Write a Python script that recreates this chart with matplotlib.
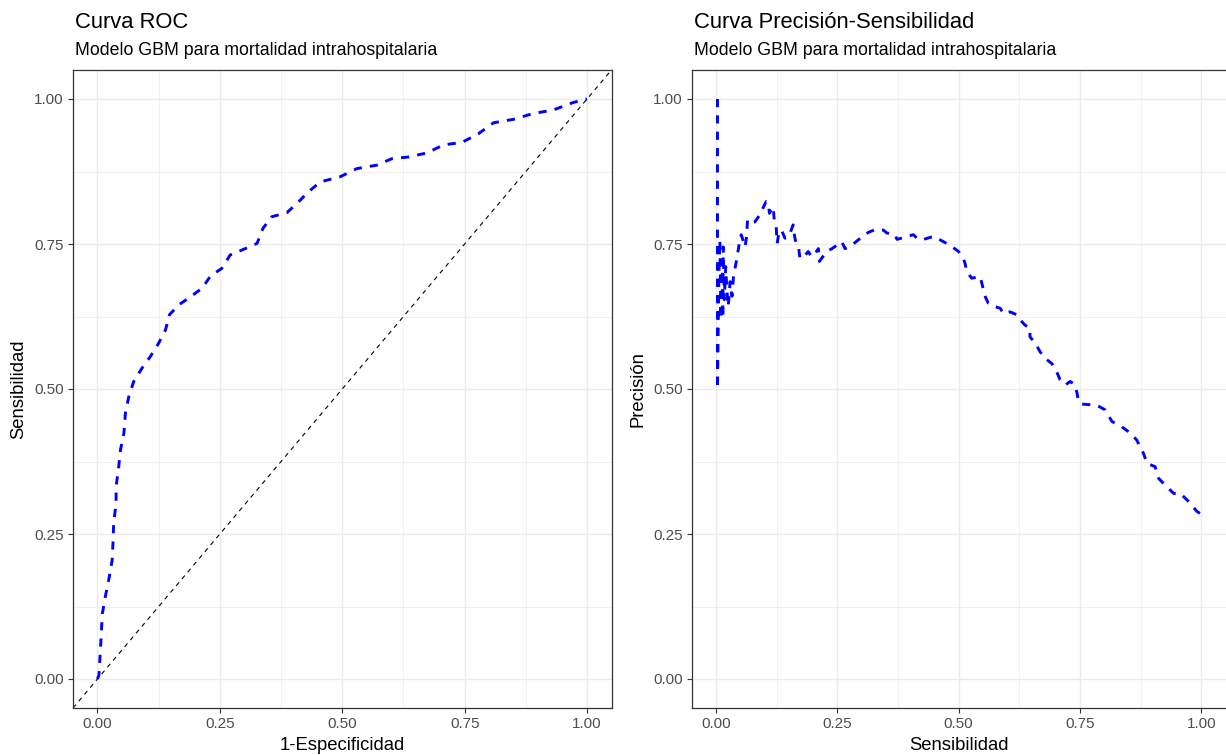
import matplotlib
matplotlib.use("Agg")
import matplotlib.pyplot as plt
import numpy as np

plt.rcParams['font.family'] = ['Liberation Sans', 'DejaVu Sans']

# ROC curve (1-especificidad, sensibilidad)
roc_fpr = [0.0, 0.003, 0.006, 0.010, 0.016, 0.023, 0.030, 0.032, 0.033, 0.038, 0.038,
           0.043, 0.047, 0.054, 0.057, 0.064, 0.074, 0.091, 0.108, 0.125, 0.139, 0.147,
           0.166, 0.190, 0.214, 0.231, 0.254, 0.271, 0.299, 0.326, 0.338, 0.356, 0.387,
           0.411, 0.431, 0.455, 0.496, 0.530, 0.571, 0.601, 0.635, 0.673, 0.707, 0.744,
           0.778, 0.809, 0.850, 0.890, 0.931, 0.972, 1.0]
roc_tpr = [0.0, 0.007, 0.050, 0.113, 0.142, 0.171, 0.205, 0.240, 0.268, 0.303, 0.332,
           0.363, 0.395, 0.424, 0.458, 0.487, 0.513, 0.536, 0.556, 0.579, 0.602, 0.628,
           0.645, 0.659, 0.674, 0.695, 0.708, 0.731, 0.741, 0.751, 0.777, 0.797, 0.804,
           0.823, 0.840, 0.857, 0.866, 0.880, 0.886, 0.897, 0.900, 0.907, 0.921, 0.925,
           0.940, 0.959, 0.965, 0.975, 0.981, 0.994, 1.0]

# precision-recall curve (sensibilidad, precision)
pr_rec = [0.003, 0.003, 0.006, 0.008, 0.010, 0.012, 0.013, 0.014, 0.015, 0.017, 0.020,
          0.022, 0.025, 0.027, 0.029, 0.033, 0.036, 0.043, 0.049, 0.052, 0.060, 0.063,
          0.065, 0.070, 0.080, 0.090, 0.098, 0.103, 0.108, 0.110, 0.118, 0.120, 0.124,
          0.126, 0.130, 0.135, 0.142, 0.150, 0.159, 0.162, 0.165, 0.170, 0.173, 0.184,
          0.190, 0.197, 0.205, 0.211, 0.213, 0.228, 0.239, 0.259, 0.266, 0.283, 0.293,
          0.314, 0.328, 0.345, 0.352, 0.369, 0.373, 0.386, 0.397, 0.407, 0.414, 0.424,
          0.448, 0.462, 0.482, 0.500, 0.510, 0.513, 0.517, 0.527, 0.544, 0.548, 0.551,
          0.555, 0.561, 0.572, 0.586, 0.592, 0.606, 0.620, 0.627, 0.637, 0.647, 0.647,
          0.658, 0.668, 0.678, 0.692, 0.702, 0.709, 0.720, 0.730, 0.740, 0.744, 0.747,
          0.754, 0.785, 0.802, 0.816, 0.836, 0.854, 0.867, 0.881, 0.888, 0.905, 0.912,
          0.926, 0.943, 0.957, 0.974, 0.991, 1.0]
pr_prec = [1.0, 0.500, 0.700, 0.757, 0.620, 0.688, 0.720, 0.622, 0.745, 0.654, 0.711,
           0.677, 0.642, 0.660, 0.685, 0.660, 0.694, 0.725, 0.757, 0.766, 0.745, 0.763,
           0.791, 0.786, 0.788, 0.800, 0.814, 0.823, 0.820, 0.803, 0.814, 0.791, 0.780,
           0.751, 0.771, 0.774, 0.760, 0.763, 0.783, 0.763, 0.751, 0.745, 0.725, 0.731,
           0.737, 0.728, 0.735, 0.742, 0.720, 0.737, 0.742, 0.754, 0.742, 0.750, 0.757,
           0.770, 0.775, 0.774, 0.769, 0.766, 0.758, 0.761, 0.764, 0.766, 0.760, 0.757,
           0.763, 0.757, 0.748, 0.737, 0.725, 0.717, 0.702, 0.691, 0.694, 0.682, 0.671,
           0.659, 0.648, 0.643, 0.639, 0.630, 0.633, 0.628, 0.619, 0.610, 0.605, 0.590,
           0.579, 0.564, 0.553, 0.544, 0.530, 0.516, 0.507, 0.513, 0.507, 0.493, 0.478,
           0.474, 0.472, 0.464, 0.444, 0.435, 0.424, 0.412, 0.389, 0.372, 0.366, 0.346,
           0.334, 0.320, 0.320, 0.306, 0.289, 0.284]

ticks = [0.0, 0.25, 0.5, 0.75, 1.0]
tick_labels = ["0.00", "0.25", "0.50", "0.75", "1.00"]
minor = [0.125, 0.375, 0.625, 0.875]

W, H = 1226, 755
fig = plt.figure(figsize=(W / 100, H / 100), dpi=100)


def setup(ax, xlabel, ylabel):
    ax.set_xlim(-0.05, 1.05)
    ax.set_ylim(-0.05, 1.05)
    ax.set_xticks(ticks)
    ax.set_xticklabels(tick_labels)
    ax.set_yticks(ticks)
    ax.set_yticklabels(tick_labels)
    ax.set_xticks(minor, minor=True)
    ax.set_yticks(minor, minor=True)
    ax.grid(which="major", color="#EBEBEB", lw=1.0)
    ax.grid(which="minor", color="#EBEBEB", lw=0.5)
    ax.set_axisbelow(True)
    ax.tick_params(which="major", length=3.5, width=0.8, color="#333333",
                   labelsize=11, labelcolor="#4D4D4D", pad=3)
    ax.tick_params(which="minor", length=0)
    for s in ax.spines.values():
        s.set_color("#333333")
        s.set_linewidth(0.9)
    ax.set_xlabel(xlabel, fontsize=13.3, labelpad=4)
    ax.set_ylabel(ylabel, fontsize=13.3, labelpad=5)


def titles(ax, title, subtitle):
    x0 = ax.get_position().x0 + 2 / W
    fig.text(x0, 1 - 28 / H, title, fontsize=15.8, va="baseline", ha="left")
    fig.text(x0, 1 - 55 / H, subtitle, fontsize=12.8, va="baseline", ha="left")


ax1 = fig.add_axes([73 / W, 1 - 708 / H, 538.5 / W, 638 / H])
setup(ax1, "1-Especificidad", "Sensibilidad")
ax1.axline((0, 0), (1, 1), color="black", lw=0.8, ls=(0, (4, 4)))
ax1.plot(roc_fpr, roc_tpr, color="blue", lw=2.1, ls=(0, (2.8, 2.8)))
titles(ax1, "Curva ROC", "Modelo GBM para mortalidad intrahospitalaria")

ax2 = fig.add_axes([691.75 / W, 1 - 708 / H, 533.75 / W, 638 / H])
setup(ax2, "Sensibilidad", "Precisión")
ax2.spines["right"].set_visible(False)  # panel runs off the right edge
ax2.plot(pr_rec, pr_prec, color="blue", lw=2.1, ls=(0, (2.8, 2.8)))
titles(ax2, "Curva Precisión-Sensibilidad", "Modelo GBM para mortalidad intrahospitalaria")

fig.savefig("out.png", dpi=100)
